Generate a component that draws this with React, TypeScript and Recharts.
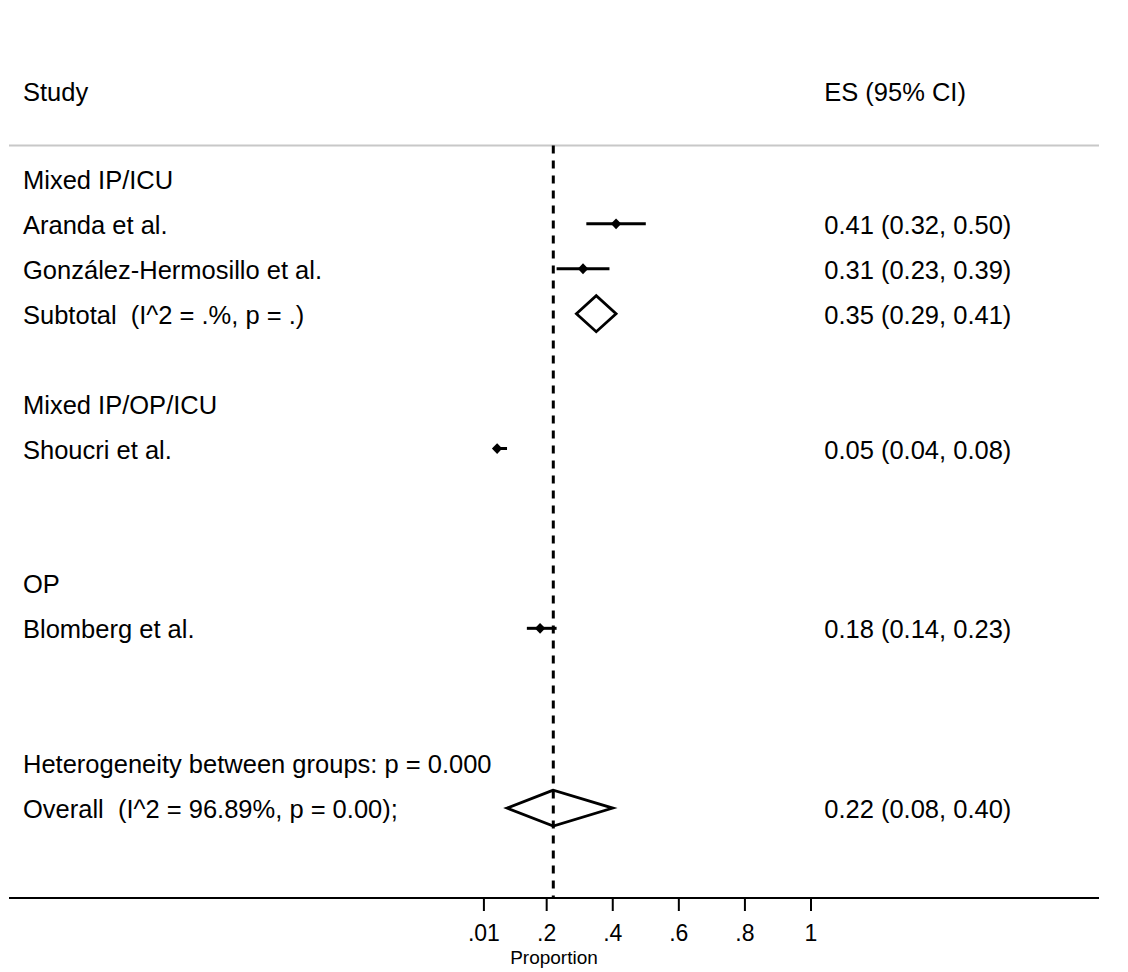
import { ComposedChart, Scatter, XAxis, YAxis, ReferenceLine } from "recharts";

const FONT = '"Liberation Sans", Arial, Helvetica, sans-serif';

// subgroup headings
const groupLabels = ["Mixed IP/ICU", "Mixed IP/OP/ICU", "OP"];
const groupRows = [0, 5, 9];

// individual studies
const studyNames = ["Aranda et al.", "González-Hermosillo et al.", "Shoucri et al.", "Blomberg et al."];
const studyRows = [1, 2, 6, 10];
const studyES = [0.41, 0.31, 0.05, 0.18];
const studyLo = [0.32, 0.23, 0.04, 0.14];
const studyHi = [0.5, 0.39, 0.08, 0.23];

// pooled estimates (subtotal, overall)
const pooledLabels = ["Subtotal  (I^2 = .%, p = .)", "Overall  (I^2 = 96.89%, p = 0.00);"];
const pooledRows = [3, 14];
const pooledES = [0.35, 0.22];
const pooledLo = [0.29, 0.08];
const pooledHi = [0.41, 0.4];

const hetLabel = "Heterogeneity between groups: p = 0.000";
const hetRow = 13;

const xTicks = [0.01, 0.2, 0.4, 0.6, 0.8, 1];

// layout, in axis units
const X_DOMAIN: [number, number] = [-1.4274, 1.8717];
const LABEL_X = -1.385;
const ES_X = 1.04;
const HEADER_ROW = -1.96;
const DIVIDER_ROW = -0.74;
const AXIS_ROW = 16;
const DIAMOND_HALF = 0.4;

const fmt2 = (v: number) => v.toFixed(2);
const esText = (es: number, lo: number, hi: number) => `${fmt2(es)} (${fmt2(lo)}, ${fmt2(hi)})`;
const tickFmt = (v: number) => String(v).replace(/^0\./, ".");

const leftText = [
  { x: LABEL_X, y: HEADER_ROW, text: "Study" },
  ...groupLabels.map((t, i) => ({ x: LABEL_X, y: groupRows[i], text: t })),
  ...studyNames.map((t, i) => ({ x: LABEL_X, y: studyRows[i], text: t })),
  ...pooledLabels.map((t, i) => ({ x: LABEL_X, y: pooledRows[i], text: t })),
  { x: LABEL_X, y: hetRow, text: hetLabel },
];

const rightText = [
  { x: ES_X, y: HEADER_ROW, text: "ES (95% CI)" },
  ...studyRows.map((r, i) => ({ x: ES_X, y: r, text: esText(studyES[i], studyLo[i], studyHi[i]) })),
  ...pooledRows.map((r, i) => ({ x: ES_X, y: r, text: esText(pooledES[i], pooledLo[i], pooledHi[i]) })),
];

const studyPoints = studyRows.map((r, i) => ({ x: studyES[i], y: r }));

const TextShape = (props: any) => (
  <text
    x={props.cx}
    y={props.cy + 10}
    fontSize={25.5}
    fontFamily={FONT}
    fill="#000"
    style={{ whiteSpace: "pre" }}
  >
    {props.payload?.text ?? props.text}
  </text>
);

const DotShape = (props: any) => {
  const { cx, cy } = props;
  return (
    <polygon
      points={`${cx - 5.2},${cy} ${cx},${cy - 5.4} ${cx + 5.2},${cy} ${cx},${cy + 5.4}`}
      fill="#000"
    />
  );
};

const NoShape = () => <g />;

export default function App() {
  return (
    <div style={{ position: "absolute", left: 0, top: 0, background: "#fff" }}>
      <ComposedChart width={1128} height={972} margin={{ top: 44, right: 29, bottom: 0, left: 9 }}>
        <XAxis
          type="number"
          dataKey="x"
          domain={X_DOMAIN}
          allowDataOverflow
          ticks={xTicks}
          tickFormatter={tickFmt}
          interval={0}
          height={74}
          tickSize={13}
          tickMargin={14}
          axisLine={{ stroke: "#000", strokeWidth: 2 }}
          tickLine={{ stroke: "#000", strokeWidth: 2 }}
          tick={{ fontSize: 23, fill: "#000", fontFamily: FONT }}
          label={{
            value: "Proportion",
            position: "insideBottom",
            offset: 8,
            fontSize: 19,
            fill: "#000",
            fontFamily: FONT,
          }}
        />
        <YAxis type="number" dataKey="y" domain={[-3, AXIS_ROW]} reversed hide width={0} allowDataOverflow />

        <ReferenceLine y={DIVIDER_ROW} stroke="#c8c8c8" strokeWidth={2} />
        <ReferenceLine
          segment={[
            { x: pooledES[1], y: DIVIDER_ROW },
            { x: pooledES[1], y: AXIS_ROW },
          ]}
          stroke="#000"
          strokeWidth={3}
          strokeDasharray="8 7"
        />

        {studyRows.map((r, i) => (
          <ReferenceLine
            key={`ci-${i}`}
            segment={[
              { x: studyLo[i], y: r },
              { x: studyHi[i], y: r },
            ]}
            stroke="#000"
            strokeWidth={3}
          />
        ))}

        <Scatter data={studyPoints} shape={DotShape} isAnimationActive={false} />

        {pooledRows.map((r, i) => (
          <Scatter
            key={`pool-${i}`}
            data={[
              { x: pooledLo[i], y: r },
              { x: pooledES[i], y: r - DIAMOND_HALF },
              { x: pooledHi[i], y: r },
              { x: pooledES[i], y: r + DIAMOND_HALF },
              { x: pooledLo[i], y: r },
              { x: pooledES[i], y: r - DIAMOND_HALF },
            ]}
            line={{ stroke: "#000", strokeWidth: 2.8 }}
            shape={NoShape}
            isAnimationActive={false}
          />
        ))}

        <Scatter data={leftText} shape={TextShape} isAnimationActive={false} />
        <Scatter data={rightText} shape={TextShape} isAnimationActive={false} />
      </ComposedChart>
    </div>
  );
}
